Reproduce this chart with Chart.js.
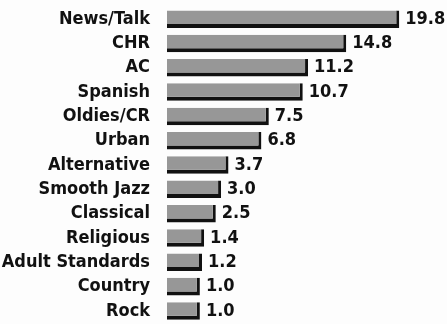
<!DOCTYPE html>
<html>
<head>
<meta charset="utf-8">
<script src="https://cdn.jsdelivr.net/npm/chart.js@4"></script>
<style>
  html, body { margin: 0; padding: 0; background: #fdfdfd; }
  #wrap { width: 447px; height: 324px; }
</style>
</head>
<body>
<div id="wrap"><canvas id="formatChart"></canvas></div>
<script>
const formats = ["News/Talk", "CHR", "AC", "Spanish", "Oldies/CR", "Urban", "Alternative",
  "Smooth Jazz", "Classical", "Religious", "Adult Standards", "Country", "Rock"];
const shares = [19.8, 14.8, 11.2, 10.7, 7.5, 6.8, 3.7, 3.0, 2.5, 1.4, 1.2, 1.0, 1.0];
const shareLabels = ["19.8", "14.8", "11.2", "10.7", "7.5", "6.8", "3.7", "3.0", "2.5", "1.4", "1.2", "1.0", "1.0"];

const fontFamily = "'Liberation Sans Narrow', 'DejaVu Sans Condensed', sans-serif";
const axisStart = -2.1;   // bars grow from here, the printed chart has a stub left of zero

// draws the number just past the end of each bar
const valueLabels = {
  id: "valueLabels",
  afterDatasetsDraw(chart) {
    const ctx = chart.ctx;
    const meta = chart.getDatasetMeta(0);
    ctx.save();
    ctx.font = "bold 18px " + fontFamily;
    ctx.fillStyle = "#111";
    ctx.textAlign = "left";
    ctx.textBaseline = "middle";
    meta.data.forEach(function (bar, i) {
      ctx.fillText(shareLabels[i], bar.x + 6, bar.y);
    });
    ctx.restore();
  }
};

const ctx = document.getElementById("formatChart").getContext("2d");
const formatChart = new Chart(ctx, {
  type: "bar",
  data: {
    labels: formats,
    datasets: [{
      data: shares,
      base: axisStart,
      backgroundColor: "#979797",
      borderColor: "#111",
      borderWidth: { top: 0, left: 0, right: 3, bottom: 4 },
      borderSkipped: false,
      categoryPercentage: 1,
      barPercentage: 0.72,
    }],
  },
  options: {
    indexAxis: "y",
    responsive: true,
    maintainAspectRatio: false,
    animation: false,
    layout: { padding: { top: 7, bottom: 0 } },
    plugins: {
      legend: { display: false },
      tooltip: { enabled: false },
    },
    scales: {
      x: {
        display: false,
        min: axisStart,
        max: 24.3,
      },
      y: {
        afterFit: function (scale) { scale.width = 167; },
        border: { display: false },
        // tick marks hidden, tickLength just pushes labels away from bars
        grid: { display: false, drawTicks: true, tickLength: 17 },
        ticks: {
          padding: 0,
          color: "#111",
          font: { family: fontFamily, size: 18, weight: "bold", lineHeight: 0.1 },
        },
      },
    },
  },
  plugins: [valueLabels],
});
</script>
</body>
</html>
